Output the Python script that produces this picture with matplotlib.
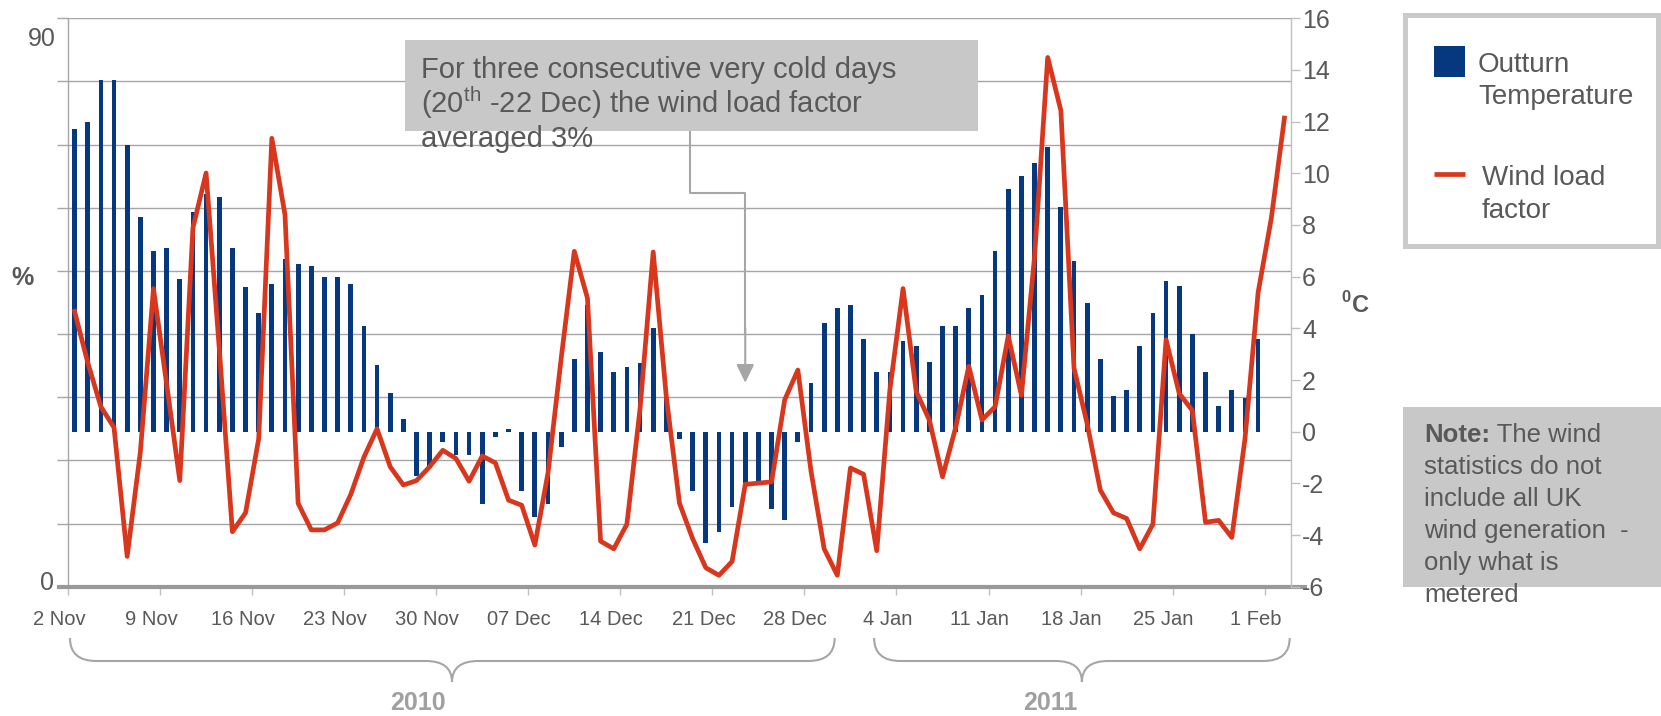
import matplotlib
matplotlib.use("Agg")
import matplotlib.pyplot as plt
import numpy as np
from matplotlib.patches import Rectangle, PathPatch
from matplotlib.path import Path
from matplotlib.lines import Line2D
from matplotlib.transforms import ScaledTranslation, blended_transform_factory

plt.rcParams['font.family'] = ['Liberation Sans', 'DejaVu Sans']
plt.rcParams['mathtext.fontset'] = 'custom'
plt.rcParams['mathtext.rm'] = 'Liberation Sans'
plt.rcParams['mathtext.bf'] = 'Liberation Sans:bold'
plt.rcParams['axes.unicode_minus'] = False

# daily outturn temperature (deg C), 2 Nov 2010 .. 31 Jan 2011
temperature = [11.7, 12.0, 13.6, 13.6, 11.1, 8.3, 7.0, 7.1, 5.9, 8.5,
               9.2, 9.1, 7.1, 5.6, 4.6, 5.7, 6.7, 6.5, 6.4, 6.0,
               6.0, 5.7, 4.1, 2.6, 1.5, 0.5, -1.7, -1.4, -0.4, -0.9,
               -0.9, -2.8, -0.2, 0.1, -2.3, -3.3, -2.8, -0.6, 2.8, 4.9,
               3.1, 2.3, 2.5, 2.65, 4.0, 1.3, -0.3, -2.3, -4.3, -3.9,
               -2.9, -2.0, -1.95, -3.0, -3.4, -0.4, 1.9, 4.2, 4.8, 4.9,
               3.6, 2.3, 2.3, 3.5, 3.3, 2.7, 4.1, 4.1, 4.8, 5.3,
               7.0, 9.4, 9.9, 10.4, 11.0, 8.7, 6.6, 5.0, 2.8, 1.4,
               1.6, 3.3, 4.6, 5.85, 5.65, 3.8, 2.3, 1.0, 1.6, 1.3,
               3.6]

# daily wind load factor (%), 2 Nov 2010 .. 3 Feb 2011
wind_load = [43.6, 35.5, 28.5, 25.2, 4.8, 21.3, 47.2, 32.1, 16.8, 56.8,
             65.5, 37.8, 8.7, 11.7, 23.4, 71.0, 58.9, 13.2, 9.0, 9.0,
             10.1, 14.6, 20.5, 25.0, 19.0, 16.1, 16.8, 19.0, 21.6, 20.3,
             16.7, 20.7, 19.6, 13.7, 12.9, 6.6, 18.0, 36.1, 53.1, 45.7,
             7.2, 6.0, 9.9, 28.2, 53.0, 30.0, 13.2, 7.6, 3.0, 1.8,
             4.0, 16.2, 16.4, 16.6, 29.6, 34.3, 18.3, 6.0, 1.8, 18.8,
             17.8, 5.7, 31.2, 47.2, 30.9, 26.4, 17.4, 25.2, 34.9, 26.4,
             28.5, 39.7, 30.3, 52.3, 83.8, 75.4, 34.6, 25.8, 15.3, 11.7,
             10.8, 6.0, 9.9, 39.1, 30.6, 27.9, 10.2, 10.5, 7.8, 23.4,
             46.6, 58.3, 74.2]

week_labels = ['2 Nov', '9 Nov', '16 Nov', '23 Nov', '30 Nov', '07 Dec', '14 Dec',
               '21 Dec', '28 Dec', '4 Jan', '11 Jan', '18 Jan', '25 Jan', '1 Feb']
year_labels = ['2010', '2011']

NAVY = '#06387f'
RED = '#d8361d'
GRID = '#a6a6a6'
LIGHT = '#c0c0c0'
TEXT = '#595959'
BOX = '#c8c8c8'

W_PX, H_PX = 1661, 716


def fx(x):
    return x / W_PX


def fy(y):
    return 1 - y / H_PX


fig = plt.figure(figsize=(W_PX / 100, H_PX / 100), dpi=100)
ax = fig.add_axes([fx(68), fy(586.7), fx(1291) - fx(68), fy(18.3) - fy(586.7)])
ax2 = ax.twinx()
ax3 = ax.twinx()

n_days = len(wind_load)
x_line = np.arange(n_days)
x_bar = np.arange(len(temperature))

# left axis: % with gridlines
ax.set_xlim(-0.5, n_days - 0.5)
ax.set_ylim(0, 90)
ax.set_yticks(np.arange(0, 91, 10))
ax.yaxis.grid(True, color=GRID, lw=1.0)
ax.set_axisbelow(True)
ax.tick_params(axis='y', direction='out', length=8, color=GRID, width=1, labelleft=False)
ax.set_xticks(np.arange(len(week_labels)) * 7 - 0.5, week_labels)
ax.tick_params(axis='x', direction='out', length=6, color=LIGHT, width=1,
               labelsize=14.5, labelcolor=TEXT, pad=11)
shift = ScaledTranslation(-9 / 100, 0, fig.dpi_scale_trans)
for lbl in ax.get_xticklabels():
    lbl.set_transform(lbl.get_transform() + shift)
for side in ['top', 'right']:
    ax.spines[side].set_visible(False)
ax.spines['left'].set_color(GRID)
ax.spines['left'].set_linewidth(1)
ax.spines['bottom'].set_color('#999999')
ax.spines['bottom'].set_linewidth(3)
ax.spines['bottom'].set_bounds(-1.18, n_days + 0.58)

ax.annotate('90', xy=(0, 90), xycoords=('axes fraction', 'data'), xytext=(-12.6, -21),
            textcoords='offset pixels', ha='right', va='center', fontsize=18, color=TEXT)
ax.annotate('0', xy=(0, 0), xycoords=('axes fraction', 'data'), xytext=(-14.4, 3.5),
            textcoords='offset pixels', ha='right', va='center', fontsize=18, color=TEXT)
ax.set_ylabel('%', rotation=0, fontsize=18, fontweight='bold', color=TEXT)
ax.yaxis.set_label_coords(-0.0374, 0.543)
ax.yaxis.label.set_va('center')

# right axis: temperature bars
ax2.bar(x_bar, temperature, width=0.36, color=NAVY, linewidth=0)
ax2.set_ylim(-6, 16)
ax2.set_yticks(np.arange(-6, 17, 2))
ax2.tick_params(axis='y', direction='out', length=6.5, color=LIGHT, width=1,
                labelsize=18, labelcolor=TEXT, pad=1.5)
for side in ['top', 'left', 'bottom']:
    ax2.spines[side].set_visible(False)
ax2.spines['right'].set_color(LIGHT)
ax2.spines['right'].set_linewidth(1)
ax2.set_ylabel(r'$^{\mathbf{0}}$C', rotation=0, fontsize=17, fontweight='bold', color=TEXT)
ax2.yaxis.set_label_coords(1.0523, 0.4956)
ax2.yaxis.label.set_va('center')
ax2.yaxis.label.set_ha('center')

# wind load factor line on top
ax3.set_ylim(0, 90)
ax3.set_axis_off()
ax3.plot(x_line, wind_load, color=RED, lw=3.4, solid_joinstyle='round', zorder=3)

# callout about the cold spell
ax3.add_patch(Rectangle((25.14, 72.2), 68.7 - 25.14, 86.6 - 72.2, fc=BOX, ec='none',
                        zorder=5, clip_on=False))
callout = ['For three consecutive very cold days',
           r'(20$^{\mathrm{th}}$ -22 Dec) the wind load factor',
           'averaged 3%']
for line, yb in zip(callout, [80.5, 74.95, 69.66]):
    ax3.text(26.35, yb, line, fontsize=21, color=TEXT, va='baseline', ha='left', zorder=6)
ax3.plot([46.83, 46.83, 51.0, 51.0], [72.2, 62.3, 62.3, 40.0], color=GRID, lw=1.5,
         zorder=4, clip_on=False)
ax3.annotate('', xy=(51.0, 32.3), xytext=(51.0, 41.0),
             arrowprops=dict(arrowstyle='-|>,head_length=0.55,head_width=0.27',
                             mutation_scale=20, color=GRID, lw=1.5, shrinkA=0, shrinkB=0),
             zorder=4)

# year braces under the date axis
trans = blended_transform_factory(ax.transData, fig.transFigure)


def brace(x0, xm, x1, r=2.0):
    yt, yh, yp = fy(638), fy(661), fy(682)
    verts = [(x0, yt), (x0, yh), (x0 + r, yh),
             (xm - r, yh), (xm, yh), (xm, yp),
             (xm, yh), (xm + r, yh),
             (x1 - r, yh), (x1, yh), (x1, yt)]
    codes = [Path.MOVETO, Path.CURVE3, Path.CURVE3,
             Path.LINETO, Path.CURVE3, Path.CURVE3,
             Path.CURVE3, Path.CURVE3,
             Path.LINETO, Path.CURVE3, Path.CURVE3]
    fig.add_artist(PathPatch(Path(verts, codes), fc='none', ec=GRID, lw=1.5,
                             transform=trans, clip_on=False))


for year, (x0, xm, x1), xt in zip(year_labels, [(-0.35, 28.7, 57.8), (60.8, 76.6, 92.4)],
                                 [26.1, 74.2]):
    brace(x0, xm, x1)
    fig.text(xt, fy(702.5), year, transform=trans, ha='center', va='center',
             fontsize=18, fontweight='bold', color='#a0a0a0')

# legend panel
fig.add_artist(Rectangle((fx(1404.5), fy(246.5)), fx(1657.5) - fx(1404.5),
                         fy(15.5) - fy(246.5), transform=fig.transFigure,
                         fc='white', ec='#cacaca', lw=3.6))
fig.add_artist(Rectangle((fx(1434), fy(77)), fx(1465) - fx(1434), fy(46) - fy(77),
                         transform=fig.transFigure, fc=NAVY, ec='none'))
fig.add_artist(Line2D([fx(1434), fx(1465)], [fy(174), fy(174)], transform=fig.transFigure,
                      color=RED, lw=3.4, solid_capstyle='butt'))
for txt, x, y in [('Outturn', 1478, 71.7), ('Temperature', 1478, 103.7),
                  ('Wind load', 1482, 185), ('factor', 1482, 217.5)]:
    fig.text(fx(x), fy(y), txt, fontsize=20, color=TEXT, va='baseline', ha='left')

# note panel
fig.add_artist(Rectangle((fx(1403), fy(587)), 1 - fx(1403), fy(406.7) - fy(587),
                         transform=fig.transFigure, fc=BOX, ec='none'))
note_head = fig.text(fx(1424), fy(441.7), 'Note:', fontsize=18.5, fontweight='bold',
                     color=TEXT, va='baseline', ha='left')
fig.add_artist(matplotlib.text.Annotation(' The wind', xy=(1, 0), xycoords=note_head,
                                          va='bottom', ha='left', fontsize=18.5, color=TEXT))
note_lines = ['statistics do not', 'include all UK', 'wind generation  -',
              'only what is', 'metered']
for i, line in enumerate(note_lines):
    fig.text(fx(1424), fy(473.7 + 32 * i), line, fontsize=18.5, color=TEXT,
             va='baseline', ha='left')

fig.savefig('out.png', dpi=100)
